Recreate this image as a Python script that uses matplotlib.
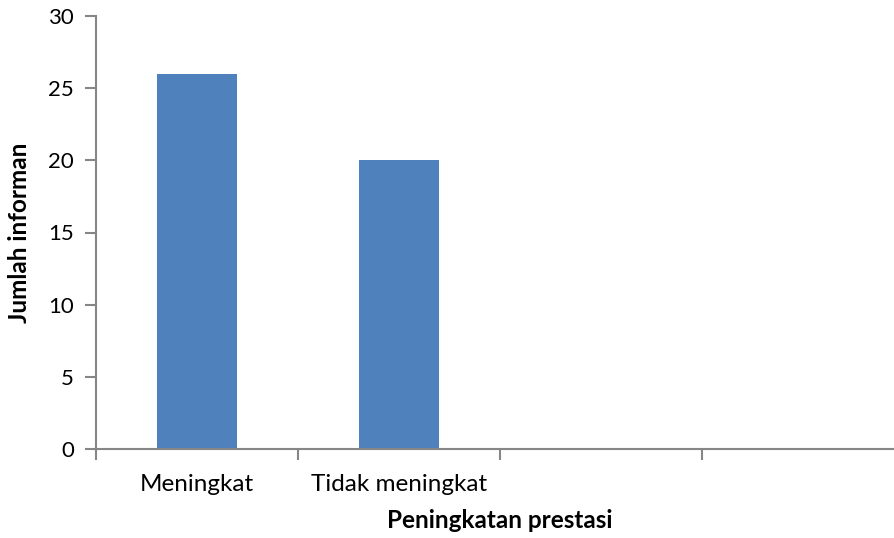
import matplotlib.pyplot as plt

categories = ["Meningkat", "Tidak meningkat", "", ""]
values = [26, 20, 0, 0]

plt.rcParams['font.family'] = ['Lato', 'DejaVu Sans']

fig = plt.figure(figsize=(8.95, 5.38), dpi=100)
ax = fig.add_axes([96/895, 89/538, 808/895, 433/538])

pos = [i + 0.5 for i in range(len(categories))]
ax.bar(pos[:2], values[:2], width=0.4, color="#4F81BD")

ax.set_xlim(0, 4)
ax.set_ylim(0, 30)
ax.set_yticks(range(0, 31, 5))
ax.set_xticks(range(0, 5))
ax.set_xticklabels([])
ax.set_xticks(pos, minor=True)
ax.set_xticklabels(categories, minor=True)
ax.tick_params(axis="x", which="minor", length=0, pad=18, labelsize=17.5)
ax.tick_params(axis="x", which="major", length=8, width=1.5, color="#868686")
ax.tick_params(axis="y", length=8, width=1.5, color="#868686", labelsize=16, pad=8)

for s in ["top", "right"]:
    ax.spines[s].set_visible(False)
for s in ["left", "bottom"]:
    ax.spines[s].set_color("#868686")
    ax.spines[s].set_linewidth(1.5)

ax.set_xlabel("Peningkatan prestasi", fontsize=17.5, fontweight="bold", labelpad=10)
ax.set_ylabel("Jumlah informan", fontsize=17.5, fontweight="bold", labelpad=12)

fig.savefig("out.png", dpi=100)
